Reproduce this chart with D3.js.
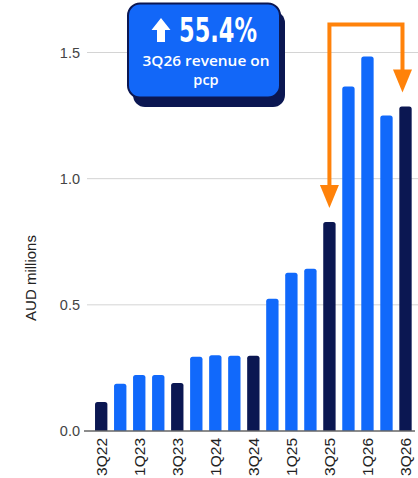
<!DOCTYPE html>
<html>
<head>
<meta charset="utf-8">
<script src="https://cdn.jsdelivr.net/npm/d3@7"></script>
<style>
  body { margin: 0; background: #fff; }
  svg { display: block; }
</style>
</head>
<body>
<svg id="chart" width="418" height="478"></svg>
<script>
const quarters = ["3Q22","4Q22","1Q23","2Q23","3Q23","4Q23","1Q24","2Q24","3Q24",
                  "4Q24","1Q25","2Q25","3Q25","4Q25","1Q26","2Q26","3Q26"];
const revenue = [0.115,0.187,0.222,0.222,0.19,0.294,0.30,0.298,0.298,
                 0.524,0.627,0.643,0.828,1.365,1.484,1.25,1.286];
const darkQuarters = ["3Q22","3Q23","3Q24","3Q25","3Q26"];
const shownLabels = ["3Q22","1Q23","3Q23","1Q24","3Q24","1Q25","3Q25","1Q26","3Q26"];
const yTicks = [0, 0.5, 1.0, 1.5];
const arrowFrom = "3Q25", arrowTo = "3Q26";

const svg = d3.select("#chart");
const font = "'Liberation Sans', Arial, sans-serif";

const x = d3.scaleBand().domain(quarters).range([91.7, 415])
  .paddingInner(0.35).paddingOuter(0.175);
const y = d3.scaleLinear().domain([0, 1.5]).range([431, 52.5]);

// gridlines
svg.append("g").selectAll("line").data(yTicks.filter(d => d > 0)).join("line")
  .attr("x1", 87).attr("x2", 418)
  .attr("y1", d => y(d)).attr("y2", d => y(d))
  .attr("stroke", "#d4d4d4").attr("stroke-width", 1);

// y tick labels
svg.append("g").selectAll("text").data(yTicks).join("text")
  .attr("x", 80).attr("y", d => y(d)).attr("dy", "0.35em")
  .attr("text-anchor", "end")
  .attr("font-family", font).attr("font-size", 14.5).attr("fill", "#444")
  .text(d => d3.format(".1f")(d));

// y title
svg.append("text")
  .attr("transform", "translate(36,278) rotate(-90)")
  .attr("text-anchor", "middle")
  .attr("font-family", font).attr("font-size", 15).attr("fill", "#222")
  .text("AUD millions");

// bars with rounded tops
const r = 2.5;
const barPath = d => {
  const x0 = x(d.q), w = x.bandwidth(), y0 = y(d.v), yb = y(0);
  return `M${x0},${yb}V${y0 + r}Q${x0},${y0} ${x0 + r},${y0}H${x0 + w - r}Q${x0 + w},${y0} ${x0 + w},${y0 + r}V${yb}Z`;
};
const bars = quarters.map((q, i) => ({q, v: revenue[i]}));
svg.append("g").selectAll("path").data(bars).join("path")
  .attr("d", barPath)
  .attr("fill", d => darkQuarters.includes(d.q) ? "#0b1752" : "#1169fb");

// x axis line
svg.append("line")
  .attr("x1", 84).attr("x2", 415).attr("y1", y(0)).attr("y2", y(0))
  .attr("stroke", "#666").attr("stroke-width", 1.5);

// x labels
svg.append("g").selectAll("text").data(shownLabels).join("text")
  .attr("transform", d => `translate(${x(d) + x.bandwidth() / 2 + 5.5},438) rotate(-90)`)
  .attr("text-anchor", "end")
  .attr("font-family", font).attr("font-size", 15.5).attr("fill", "#222")
  .text(d => d);

// orange connector arrow
const orange = "#ff820a";
const ax1 = x(arrowFrom) + x.bandwidth() / 2;
const ax2 = x(arrowTo) + x.bandwidth() / 2 - 3;
const tip1 = y(revenue[quarters.indexOf(arrowFrom)]) - 14;
const tip2 = y(revenue[quarters.indexOf(arrowTo)]) - 14;
const topY = 24.5, headH = 23, headW = 19;
svg.append("path")
  .attr("d", `M${ax1},${tip1 - headH + 1}V${topY}H${ax2}V${tip2 - headH + 1}`)
  .attr("fill", "none").attr("stroke", orange).attr("stroke-width", 4)
  .attr("stroke-linejoin", "miter");
[[ax1, tip1], [ax2, tip2]].forEach(([ax, t]) => {
  svg.append("path")
    .attr("d", `M${ax - headW / 2},${t - headH}H${ax + headW / 2}L${ax},${t}Z`)
    .attr("fill", orange);
});

// callout box
const box = svg.append("g");
box.append("rect").attr("x", 133).attr("y", 11).attr("width", 152).attr("height", 96)
  .attr("rx", 12).attr("fill", "#0b1752");
box.append("rect").attr("x", 128).attr("y", 3.5).attr("width", 152).attr("height", 94)
  .attr("rx", 12).attr("fill", "#1267f8").attr("stroke", "#0b1752").attr("stroke-width", 2);
box.append("path")
  .attr("d", "M161,18L170.5,30H165V42H157V30H151.5Z")
  .attr("fill", "#fff");
box.append("text")
  .attr("x", 179).attr("y", 42)
  .attr("font-family", "'Liberation Sans Narrow', 'DejaVu Sans Condensed', sans-serif")
  .attr("font-weight", "bold").attr("font-size", 33).attr("fill", "#fff")
  .attr("textLength", 78).attr("lengthAdjust", "spacingAndGlyphs")
  .text("55.4%");
box.append("text")
  .attr("x", 206).attr("y", 65.5).attr("text-anchor", "middle")
  .attr("font-family", "'Open Sans', 'Noto Sans', sans-serif")
  .attr("font-weight", 600).attr("font-size", 14.5).attr("fill", "#fff")
  .attr("textLength", 127).attr("lengthAdjust", "spacingAndGlyphs")
  .text("3Q26 revenue on");
box.append("text")
  .attr("x", 206).attr("y", 84.5).attr("text-anchor", "middle")
  .attr("font-family", "'Open Sans', 'Noto Sans', sans-serif")
  .attr("font-weight", 600).attr("font-size", 14.5).attr("fill", "#fff")
  .text("pcp");
</script>
</body>
</html>
